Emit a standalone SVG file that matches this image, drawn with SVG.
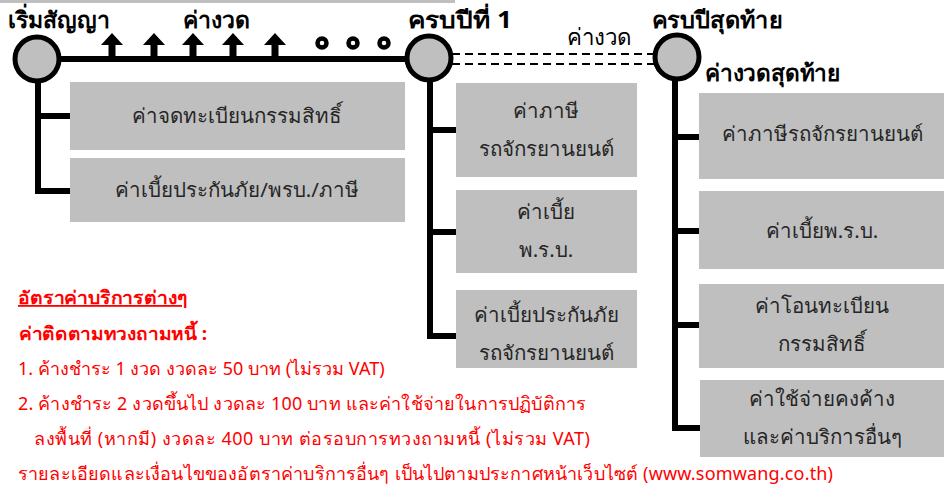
<svg xmlns="http://www.w3.org/2000/svg" width="947" height="490" viewBox="0 0 947 490">
<style>
.box{fill:#bfbfbf;}
.wire{stroke:#000;stroke-width:6;fill:none;}
.node{fill:#bfbfbf;stroke:#000;stroke-width:5;}
.t{font-family:"Noto Sans","Liberation Sans",sans-serif;font-size:20.5px;fill:#262626;text-anchor:middle;}
.h{font-family:"Noto Sans","Liberation Sans",sans-serif;font-size:23px;font-weight:bold;fill:#000;}
.r{font-family:"Noto Sans","Liberation Sans",sans-serif;font-size:18px;fill:#ff0000;}
.rb{font-weight:bold;}
</style>
<defs>
<path id="arr" d="M0,-25 L11,-13 L3.5,-13 L3.5,0 L-3.5,0 L-3.5,-13 L-11,-13 Z" fill="#000"/>
</defs>
<rect x="0" y="0" width="455" height="3" fill="#bfbfbf"/>
<g id="connectors">
<line class="wire" x1="37" y1="59" x2="428" y2="59"/>
<line x1="452" y1="54" x2="655" y2="54" stroke="#000" stroke-width="2" stroke-dasharray="8,5"/>
<line x1="452" y1="64" x2="655" y2="64" stroke="#000" stroke-width="2" stroke-dasharray="8,5"/>
<path class="wire" d="M38,80 V191 H72 M38,116 H72"/>
<path class="wire" d="M430,80 V336 H458 M430,130 H458 M430,232 H458"/>
<path class="wire" d="M675,80 V428 H702 M675,137 H702 M675,231 H702 M675,325 H702"/>
<use href="#arr" x="112" y="58"/>
<use href="#arr" x="154" y="58"/>
<use href="#arr" x="193" y="58"/>
<use href="#arr" x="233" y="58"/>
<use href="#arr" x="275" y="58"/>
<circle cx="322" cy="43" r="4.5" fill="#fff" stroke="#000" stroke-width="4.5"/>
<circle cx="353" cy="43" r="4.5" fill="#fff" stroke="#000" stroke-width="4.5"/>
<circle cx="384" cy="43" r="4.5" fill="#fff" stroke="#000" stroke-width="4.5"/>
</g>
<g id="start">
<circle class="node" cx="37" cy="59" r="22"/>
<text class="h" x="8" y="28" textLength="102" lengthAdjust="spacingAndGlyphs">เริ่มสัญญา</text>
</g>
<g id="label-installment"><text class="h" x="183" y="28" textLength="67" lengthAdjust="spacingAndGlyphs">ค่างวด</text></g>
<g id="year1">
<circle class="node" cx="429" cy="58" r="22"/>
<text class="h" x="408" y="28" textLength="104" lengthAdjust="spacingAndGlyphs">ครบปีที่ 1</text>
</g>
<g id="label-installment2"><text class="h" x="567" y="45" style="font-weight:normal" textLength="65" lengthAdjust="spacingAndGlyphs">ค่างวด</text></g>
<g id="lastyear">
<circle class="node" cx="677" cy="57" r="22"/>
<text class="h" x="652" y="28" textLength="130" lengthAdjust="spacingAndGlyphs">ครบปีสุดท้าย</text>
<text class="h" x="705" y="81" textLength="135" lengthAdjust="spacingAndGlyphs">ค่างวดสุดท้าย</text>
</g>
<g id="boxA"><rect class="box" x="70" y="82" width="335" height="68"/><text class="t" x="237" y="123">ค่าจดทะเบียนกรรมสิทธิ์</text></g>
<g id="boxB"><rect class="box" x="70" y="158" width="335" height="64"/><text class="t" x="237" y="197">ค่าเบี้ยประกันภัย/พรบ./ภาษี</text></g>
<g id="boxC"><rect class="box" x="456" y="83" width="181" height="94"/><text class="t" x="546" y="118">ค่าภาษี</text><text class="t" x="546" y="156">รถจักรยานยนต์</text></g>
<g id="boxD"><rect class="box" x="456" y="190" width="181" height="83"/><text class="t" x="546" y="219">ค่าเบี้ย</text><text class="t" x="546" y="257">พ.ร.บ.</text></g>
<g id="boxE"><rect class="box" x="456" y="290" width="181" height="78"/><text class="t" x="546" y="322">ค่าเบี้ยประกันภัย</text><text class="t" x="546" y="360">รถจักรยานยนต์</text></g>
<g id="boxF"><rect class="box" x="699" y="93" width="245" height="86"/><text class="t" x="822" y="141">ค่าภาษีรถจักรยานยนต์</text></g>
<g id="boxG"><rect class="box" x="699" y="191" width="245" height="78"/><text class="t" x="822" y="238">ค่าเบี้ยพ.ร.บ.</text></g>
<g id="boxH"><rect class="box" x="699" y="284" width="245" height="84"/><text class="t" x="822" y="313">ค่าโอนทะเบียน</text><text class="t" x="822" y="351">กรรมสิทธิ์</text></g>
<g id="boxI"><rect class="box" x="700" y="380" width="244" height="77"/><text class="t" x="822" y="406">ค่าใช้จ่ายคงค้าง</text><text class="t" x="822" y="444">และค่าบริการอื่นๆ</text></g>
<g id="notes">
<text class="r rb" x="18" y="304" text-decoration="underline" textLength="170" lengthAdjust="spacingAndGlyphs">อัตราค่าบริการต่างๆ</text>
<text class="r rb" x="19" y="340" textLength="188" lengthAdjust="spacingAndGlyphs">ค่าติดตามทวงถามหนี้ :</text>
<text class="r" x="18" y="375">1. ค้างชำระ 1 งวด งวดละ 50 บาท (ไม่รวม VAT)</text>
<text class="r" x="18" y="410" textLength="568" lengthAdjust="spacing">2. ค้างชำระ 2 งวดขึ้นไป งวดละ 100 บาท และค่าใช้จ่ายในการปฏิบัติการ</text>
<text class="r" x="34" y="445" textLength="556" lengthAdjust="spacing">ลงพื้นที่ (หากมี) งวดละ 400 บาท ต่อรอบการทวงถามหนี้ (ไม่รวม VAT)</text>
<text class="r" x="18" y="480" textLength="815" lengthAdjust="spacing">รายละเอียดและเงื่อนไขของอัตราค่าบริการอื่นๆ เป็นไปตามประกาศหน้าเว็บไซต์ (www.somwang.co.th)</text>
</g>
</svg>
